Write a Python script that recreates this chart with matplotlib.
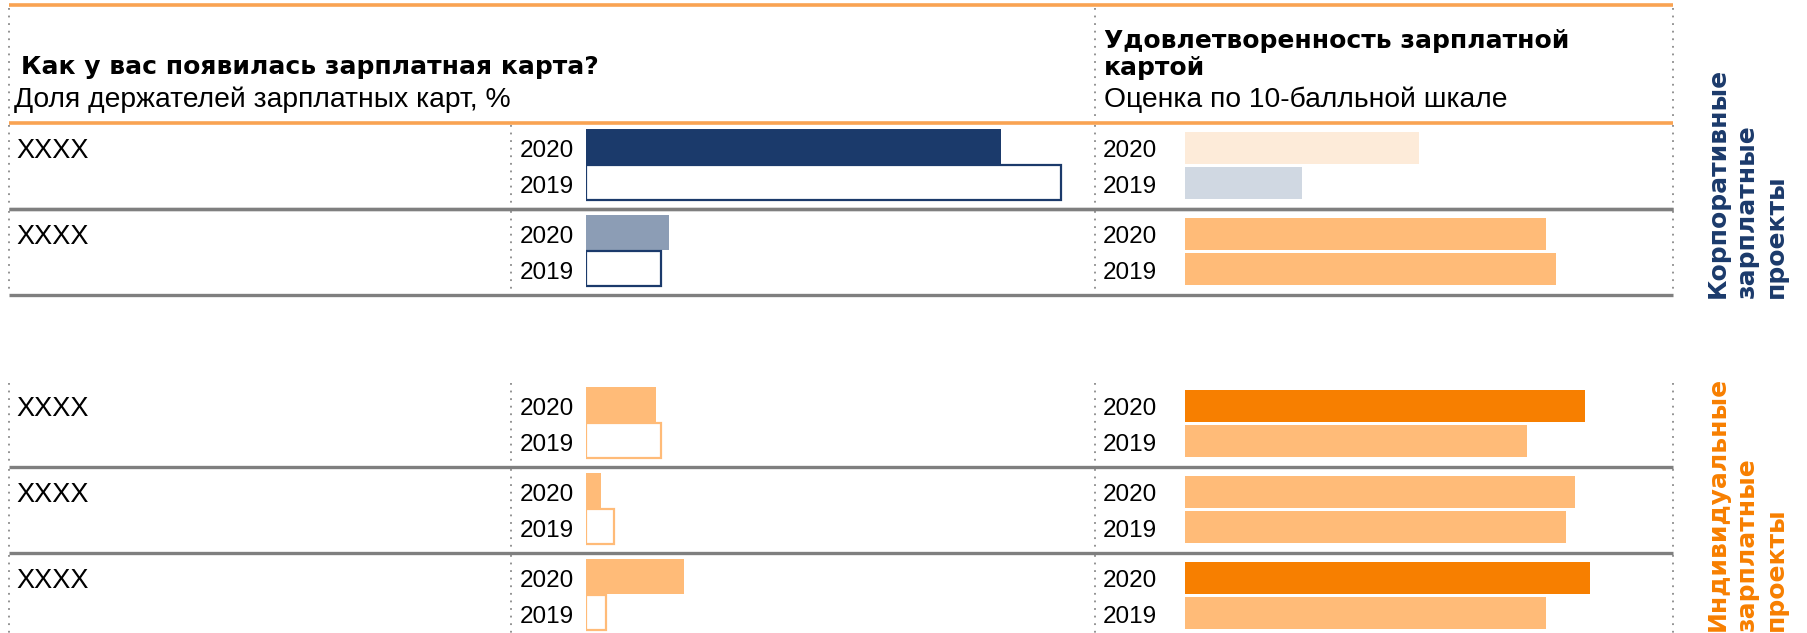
import matplotlib
matplotlib.use("Agg")
import matplotlib.pyplot as plt
from matplotlib import transforms

# ---- data -------------------------------------------------------------
categories = ["XXXX", "XXXX", "XXXX", "XXXX", "XXXX"]
years = ["2020", "2019"]
# share of salary-card holders, %
share_2020 = [83.0, 16.5, 14.0, 3.0, 19.5]
share_2019 = [95.0, 15.0, 15.0, 5.5, 4.0]
# satisfaction, 10-point scale
score_2020 = [4.8, 7.4, 8.2, 8.0, 8.3]
score_2019 = [2.4, 7.6, 7.0, 7.8, 7.4]

left_title = "Как у вас появилась зарплатная карта?"
left_subtitle = "Доля держателей зарплатных карт, %"
right_title = "Удовлетворенность зарплатной\nкартой"
right_subtitle = "Оценка по 10-балльной шкале"
group_labels = ["Корпоративные\nзарплатные\nпроекты", "Индивидуальные\nзарплатные\nпроекты"]

# ---- styles -----------------------------------------------------------
NAVY = "#1b3a6b"
NAVY_LIGHT = "#8c9db5"
ORANGE = "#f77f00"
ORANGE_LIGHT = "#ffbb78"
PEACH = "#fdebd9"
SLATE = "#d0d8e2"
RULE_ORANGE = "#f9a352"
RULE_GRAY = "#7f7f7f"
DOT_GRAY = "#8a8a8a"

REG = ["Liberation Sans", "DejaVu Sans"]
BOLD = ["DejaVu Sans"]

slots = [0, 1, 3, 4, 5]          # row slots, slot 2 is the gap between groups
left_fill = [NAVY, NAVY_LIGHT, ORANGE_LIGHT, ORANGE_LIGHT, ORANGE_LIGHT]
left_edge = [NAVY, NAVY, ORANGE_LIGHT, ORANGE_LIGHT, ORANGE_LIGHT]
right_2020_col = [PEACH, ORANGE_LIGHT, ORANGE, ORANGE_LIGHT, ORANGE]
right_2019_col = [SLATE, ORANGE_LIGHT, ORANGE_LIGHT, ORANGE_LIGHT, ORANGE_LIGHT]

W, H = 1807, 633
TOP, ROWS_TOP, SLOT = 5, 123, 86
X_LEFT, X_YEAR_L, X_MID, X_RIGHT = 9, 511, 1095, 1673


def fx(px):
    return px / W


def fy(py):
    return 1 - py / H


fig = plt.figure(figsize=(W / 100, H / 100), dpi=100)

# background rules (layout only)
bg = fig.add_axes([0, 0, 1, 1])
bg.set_xlim(0, W)
bg.set_ylim(H, 0)
bg.axis("off")
for y in (TOP, ROWS_TOP):
    bg.plot([X_LEFT, X_RIGHT], [y, y], color=RULE_ORANGE, lw=2.6, solid_capstyle="butt")
for s in slots:
    y0 = ROWS_TOP + s * SLOT
    if s not in (0, 3):
        bg.plot([X_LEFT, X_RIGHT], [y0, y0], color=RULE_GRAY, lw=2.4, solid_capstyle="butt")
    for x in (X_LEFT, X_YEAR_L, X_MID, X_RIGHT):
        bg.plot([x, x], [y0 + 2, y0 + SLOT - 2], color=DOT_GRAY, lw=1.3,
                linestyle=(0, (1, 3.2)))
for s in (1, 2):
    y0 = ROWS_TOP + s * SLOT
    bg.plot([X_LEFT, X_RIGHT], [y0, y0], color=RULE_GRAY, lw=2.4, solid_capstyle="butt")
for x in (X_LEFT, X_MID, X_RIGHT):
    bg.plot([x, x], [TOP + 3, ROWS_TOP - 2], color=DOT_GRAY, lw=1.3, linestyle=(0, (1, 3.2)))

# bar axes
y_top = ROWS_TOP + 6 * SLOT
y_bottom = fy(y_top)
y_height = fy(ROWS_TOP) - y_bottom
axL = fig.add_axes([fx(586), y_bottom, fx(1086) - fx(586), y_height])
axR = fig.add_axes([fx(1185), y_bottom, fx(1673) - fx(1185), y_height])
for ax, hi in ((axL, 100), (axR, 10)):
    ax.set_xlim(0, hi)
    ax.set_ylim(6, 0)
    ax.axis("off")
    ax.patch.set_alpha(0)

pos20L = [s + 0.275 for s in slots]
pos19L = [s + 0.69 for s in slots]
axL.barh(pos20L, share_2020, height=0.40, color=left_fill, edgecolor="none")
axL.barh(pos19L, share_2019, height=0.40, color="white", edgecolor=left_edge, linewidth=1.6)

pos20R = [s + 0.29 for s in slots]
pos19R = [s + 0.70 for s in slots]
axR.barh(pos20R, score_2020, height=0.37, color=right_2020_col, edgecolor="none")
axR.barh(pos19R, score_2019, height=0.37, color=right_2019_col, edgecolor="none")

# year labels and row captions
for ax, xpx in ((axL, 520), (axR, 1103)):
    tr = transforms.blended_transform_factory(fig.transFigure, ax.transData)
    for s in slots:
        ax.text(fx(xpx), s + 0.395, years[0], transform=tr, family=REG, fontsize=17.5,
                va="baseline", ha="left")
        ax.text(fx(xpx), s + 0.81, years[1], transform=tr, family=REG, fontsize=17.5,
                va="baseline", ha="left")
trL = transforms.blended_transform_factory(fig.transFigure, axL.transData)
for s, cat in zip(slots, categories):
    axL.text(fx(16), s + 0.41, cat, transform=trL, family=REG, fontsize=19.5,
             va="baseline", ha="left")

# headers
fig.text(fx(21), fy(74), left_title, family=BOLD, weight="bold", fontsize=18,
         va="baseline", ha="left")
fig.text(fx(14), fy(107), left_subtitle, family=REG, fontsize=20.3, va="baseline", ha="left")
fig.text(fx(1104), fy(75), right_title, family=BOLD, weight="bold", fontsize=18,
         va="baseline", ha="left", linespacing=1.16)
fig.text(fx(1104), fy(107), right_subtitle, family=REG, fontsize=20.3, va="baseline",
         ha="left")

# group labels
fig.text(fx(1706), fy(298), group_labels[0], family=BOLD, weight="bold", fontsize=18,
         color=NAVY, rotation=90, ha="left", va="bottom", linespacing=1.25)
fig.text(fx(1706), fy(631), group_labels[1], family=BOLD, weight="bold", fontsize=18,
         color=ORANGE, rotation=90, ha="left", va="bottom", linespacing=1.25)

fig.savefig("out.png", dpi=100)
